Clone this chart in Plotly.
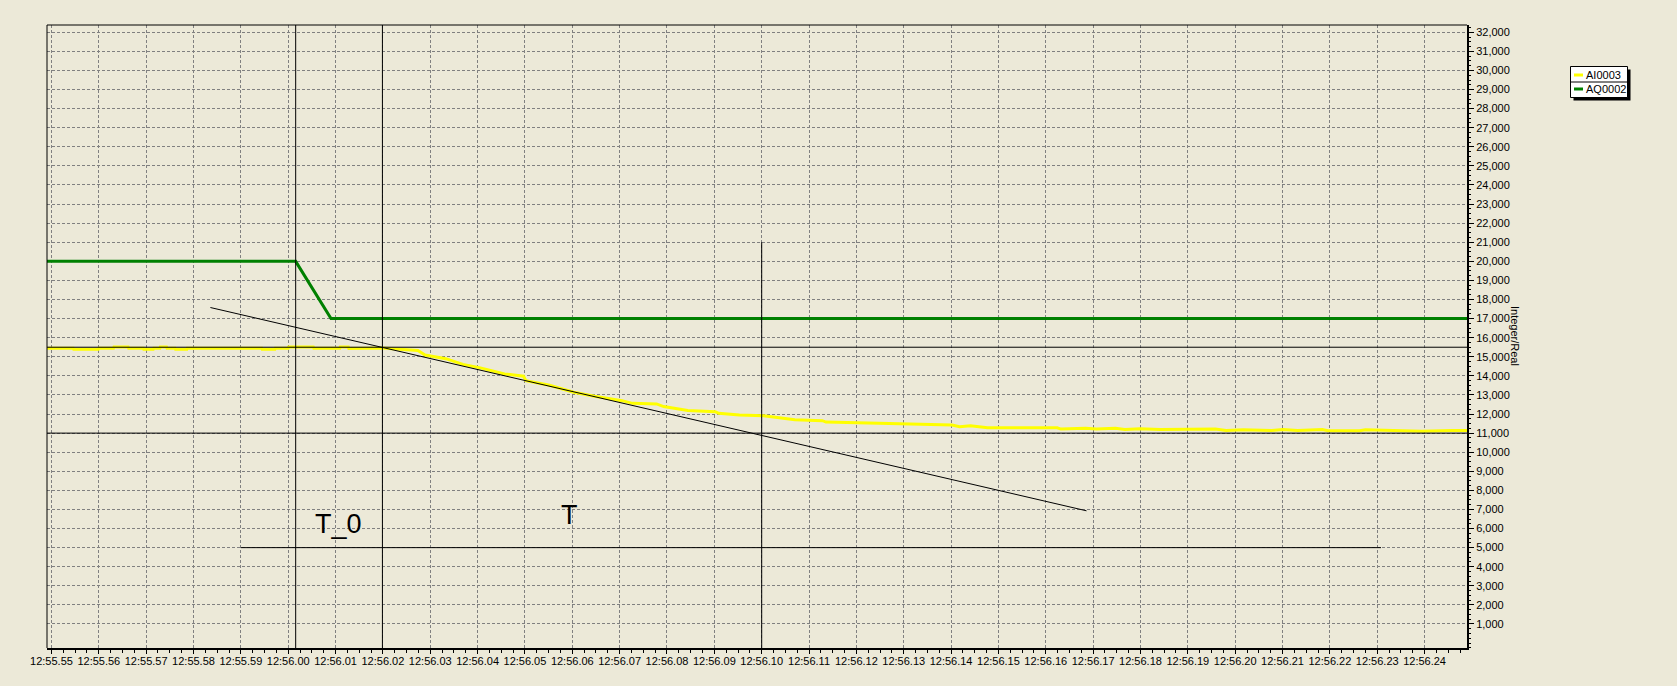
import plotly.graph_objects as go
import pandas as pd

# ---------------- data (times = seconds after 12:56:00) ----------------
BASE_TIME = "2000-01-01 12:56:00"

series_names = ["AI0003", "AQ0002"]
series_colors = ["#FFFF00", "#008000"]

ai0003_t = [-5.09, -4.54, -4.53, -4.01, -4.00, -3.69, -3.68, -3.38, -3.37, -3.06,
            -3.05, -2.85, -2.84, -2.71, -2.70, -2.57, -2.56, -2.39, -2.38, -2.14,
            -2.13, -0.56, -0.55, -0.28, -0.27, 0.00, 0.01, 0.53, 0.54, 1.09,
            1.10, 1.27, 1.28, 1.98, 2.74, 2.89, 3.33, 3.69, 4.06, 4.57,
            4.97, 5.02, 5.52, 6.03, 6.47, 7.05, 7.27, 7.78, 7.93, 8.44,
            9.02, 9.09, 9.53, 10.04, 10.70, 11.28, 11.36, 12.38, 12.51, 13.06,
            14.02, 14.18, 14.41, 14.77, 16.24, 16.32, 16.84, 17.07, 17.47, 17.67,
            17.99, 18.42, 19.22, 19.58, 19.81, 20.17, 20.77, 21.01, 21.32, 21.84,
            21.96, 22.63, 22.75, 22.99, 23.07, 23.94, 24.58, 24.90]
ai0003_v = [15450, 15450, 15400, 15400, 15450, 15450, 15510, 15510, 15450, 15450,
            15400, 15400, 15450, 15450, 15510, 15510, 15450, 15450, 15400, 15400,
            15450, 15450, 15400, 15400, 15450, 15450, 15510, 15510, 15450, 15450,
            15510, 15510, 15430, 15460, 15330, 15090, 14900, 14600, 14420, 14100,
            13980, 13750, 13510, 13140, 12930, 12700, 12560, 12530, 12390, 12180,
            12120, 12040, 11950, 11910, 11700, 11650, 11580, 11530, 11490, 11470,
            11420, 11330, 11380, 11280, 11280, 11210, 11260, 11210, 11260, 11190,
            11230, 11190, 11230, 11210, 11140, 11170, 11140, 11190, 11140, 11190,
            11120, 11120, 11170, 11160, 11120, 11100, 11140, 11140]

aq0002_t = [-5.094, 0.158, 0.904, 24.896]
aq0002_v = [20000, 20000, 17000, 17000]

# tangent line (black)
tangent_t = [-1.643, 16.86]
tangent_v = [17580, 6930]

# cursors
cursor_h_full = [15500, 11000]            # full-width horizontal lines
cursor_v_full = [0.158, 1.99]             # full-height vertical lines
cursor_v_partial_t = 10.0                 # vertical line from value below
cursor_v_partial_top = 21000
cursor_h_partial_v = 5000                 # horizontal line between times
cursor_h_partial_t = [-1.0, 23.08]

labels_text = ["T_0", "T"]
labels_t = [1.052, 5.935]
labels_v = [6224, 6701]

x_range_t = [-5.094, 24.896]
y_range = [-258, 32382]
y_tick_values = list(range(1000, 33000, 1000))
y_axis_title = "Integer/Real"

# -----------------------------------------------------------------------
base = pd.Timestamp(BASE_TIME)


def T(sec):
    return base + pd.to_timedelta(sec, unit="s")


def Ts(lst):
    return [T(s) for s in lst]


BG = "#ECE9D8"
FONT = "Liberation Sans, Arial, sans-serif"

# plot area in pixels (used for decorations in paper coords)
L, R, TOP, B = 47, 210, 25, 38
W, H = 1677, 686
PW, PH = W - L - R, H - TOP - B


def px(xp):
    return (xp - L) / PW


def py(yp):
    return (H - B - yp) / PH


fig = go.Figure()

series_t = [ai0003_t, aq0002_t]
series_v = [ai0003_v, aq0002_v]
for name, color, ts, vs in zip(series_names, series_colors, series_t, series_v):
    fig.add_trace(go.Scatter(x=Ts(ts), y=vs, mode="lines", name=name,
                             line=dict(color=color, width=3), showlegend=False,
                             hoverinfo="skip"))

fig.add_trace(go.Scatter(x=Ts(tangent_t), y=tangent_v, mode="lines",
                         line=dict(color="black", width=1), showlegend=False,
                         hoverinfo="skip"))

shapes = []
for v in cursor_h_full:
    shapes.append(dict(type="line", xref="paper", yref="y", x0=0, x1=1, y0=v, y1=v,
                       line=dict(color="black", width=1), layer="above"))
for t in cursor_v_full:
    shapes.append(dict(type="line", xref="x", yref="paper", x0=T(t), x1=T(t), y0=0, y1=1,
                       line=dict(color="black", width=1), layer="above"))
shapes.append(dict(type="line", xref="x", yref="y", x0=T(cursor_v_partial_t),
                   x1=T(cursor_v_partial_t), y0=y_range[0], y1=cursor_v_partial_top,
                   line=dict(color="black", width=1), layer="above"))
shapes.append(dict(type="line", xref="x", yref="y", x0=T(cursor_h_partial_t[0]),
                   x1=T(cursor_h_partial_t[1]), y0=cursor_h_partial_v, y1=cursor_h_partial_v,
                   line=dict(color="black", width=1), layer="above"))
# left and top frame (thin)
shapes.append(dict(type="line", xref="paper", yref="paper", x0=0, x1=0, y0=0, y1=1,
                   line=dict(color="black", width=1), layer="above"))
shapes.append(dict(type="line", xref="paper", yref="paper", x0=0, x1=1, y0=1, y1=1,
                   line=dict(color="black", width=1), layer="above"))

# legend box (custom, with shadow and separator)
lx0, lx1, ly0, ly1 = 1570.5, 1627.5, 66.5, 97.5
shapes.append(dict(type="rect", xref="paper", yref="paper",
                   x0=px(lx0 + 3), x1=px(lx1 + 3), y0=py(ly0 + 3), y1=py(ly1 + 3),
                   fillcolor="black", line=dict(width=0)))
shapes.append(dict(type="rect", xref="paper", yref="paper",
                   x0=px(lx0), x1=px(lx1), y0=py(ly0), y1=py(ly1),
                   fillcolor="white", line=dict(color="black", width=1)))
shapes.append(dict(type="line", xref="paper", yref="paper",
                   x0=px(lx0), x1=px(lx1), y0=py(82), y1=py(82),
                   line=dict(color="black", width=1)))

annotations = []
row_y = [75, 89]
for name, color, ry in zip(series_names, series_colors, row_y):
    shapes.append(dict(type="line", xref="paper", yref="paper",
                       x0=px(1574), x1=px(1583), y0=py(ry), y1=py(ry),
                       line=dict(color=color, width=3)))
    annotations.append(dict(xref="paper", yref="paper", x=px(1584), y=py(ry),
                            text=name, showarrow=False, xanchor="left", yanchor="middle",
                            font=dict(family=FONT, size=11, color="black")))

annotations.append(dict(xref="paper", yref="paper", x=px(1515), y=py(336),
                        text=y_axis_title, showarrow=False, textangle=90,
                        xanchor="center", yanchor="middle",
                        font=dict(family=FONT, size=11, color="black")))

for txt, t, v in zip(labels_text, labels_t, labels_v):
    annotations.append(dict(xref="x", yref="y", x=T(t), y=v, text=txt, showarrow=False,
                            xanchor="center", yanchor="middle",
                            font=dict(family=FONT, size=27, color="black")))

grid = dict(gridcolor="#808080", gridwidth=1, griddash="3px,2px")

fig.update_layout(
    width=W, height=H,
    margin=dict(l=L, r=R, t=TOP, b=B, pad=0),
    paper_bgcolor=BG, plot_bgcolor=BG,
    font=dict(family=FONT, size=11, color="black"),
    showlegend=False,
    shapes=shapes,
    annotations=annotations,
    xaxis=dict(
        type="date",
        range=[T(x_range_t[0]), T(x_range_t[1])],
        tick0=T(-5), dtick=1000, tickformat="%H:%M.%S",
        showgrid=True, **grid,
        showline=True, linecolor="black", linewidth=2,
        ticks="outside", ticklen=4, tickcolor="black", tickwidth=1,
        ticklabelstandoff=-2,
        minor=dict(dtick=250, tick0=T(-5), ticks="outside", ticklen=3,
                   tickcolor="black", showgrid=False),
        zeroline=False, fixedrange=True,
        tickfont=dict(family=FONT, size=11, color="black"),
    ),
    yaxis=dict(
        side="right",
        range=y_range,
        tickmode="array", tickvals=y_tick_values, tickformat=",d",
        showgrid=True, **grid,
        showline=True, linecolor="black", linewidth=2,
        ticks="outside", ticklen=5, tickcolor="black", tickwidth=1,
        minor=dict(tickmode="linear", tick0=0, dtick=250, ticks="outside", ticklen=2,
                   tickcolor="black", showgrid=False),
        zeroline=False, fixedrange=True,
        tickfont=dict(family=FONT, size=11, color="black"),
    ),
)

fig.write_html("out.html")
